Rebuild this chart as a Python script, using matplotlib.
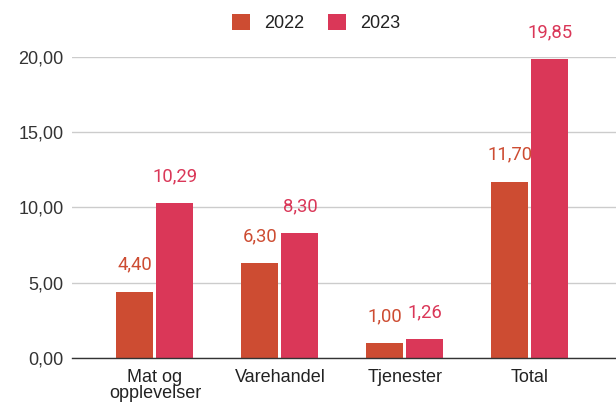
import matplotlib
matplotlib.use("Agg")
import matplotlib.pyplot as plt
from matplotlib.patches import Patch
import numpy as np

categories = ["Mat og\nopplevelser", "Varehandel", "Tjenester", "Total"]
v2022 = [4.40, 6.30, 1.00, 11.70]
v2023 = [10.29, 8.30, 1.26, 19.85]
series_names = ["2022", "2023"]
yticks = [0, 5, 10, 15, 20]

c2022 = "#CD4C32"
c2023 = "#DA3758"

plt.rcParams['font.family'] = ['Liberation Sans', 'DejaVu Sans']

fig = plt.figure(figsize=(6.16, 4.03), dpi=100)
ax = fig.add_axes([72/616, 1-358/403, 1-72/616, (358-57)/403])

x = np.arange(len(categories))
w = 0.296
off = 0.16
b1 = ax.bar(x - off, v2022, w, color=c2022, zorder=3)
b2 = ax.bar(x + off, v2023, w, color=c2023, zorder=3)

def fmt(v):
    return f"{v:.2f}".replace(".", ",")

for bars, vals, col in ((b1, v2022, c2022), (b2, v2023, c2023)):
    for r, v in zip(bars, vals):
        ax.annotate(fmt(v), (r.get_x() + r.get_width()/2, v), xytext=(0, 19.5),
                    textcoords="offset points", ha="center", va="center",
                    fontsize=13.3, color=col, annotation_clip=False, clip_on=False,
                    family=['Roboto', 'DejaVu Sans'])

ax.set_xlim(-0.664, 3.69)
ax.set_ylim(0, 20)
ax.set_yticks(yticks)
ax.set_yticklabels([fmt(t) for t in yticks], fontsize=13, color="#333333")
ax.set_xticks(x)
ax.set_xticklabels(categories, fontsize=13, color="#222222", linespacing=0.95)
ax.tick_params(axis="both", length=0)
ax.tick_params(axis="y", pad=6)
ax.tick_params(axis="x", pad=8)
ax.yaxis.grid(True, color="#cccccc", linewidth=1, zorder=0)
for s in ["top", "right", "left"]:
    ax.spines[s].set_visible(False)
ax.spines["bottom"].set_color("#333333")
ax.spines["bottom"].set_linewidth(1)
ax.spines["bottom"].set_zorder(4)

handles = [Patch(facecolor=c2022, edgecolor="none"), Patch(facecolor=c2023, edgecolor="none")]
fig.legend(handles, series_names, loc="center", bbox_to_anchor=(316/616, 1-23/403),
           ncol=2, frameon=False, fontsize=13, handlelength=1.0, handleheight=1.0,
           handletextpad=0.8, columnspacing=1.3, labelcolor="#222222")

fig.savefig("out.png", dpi=100)
